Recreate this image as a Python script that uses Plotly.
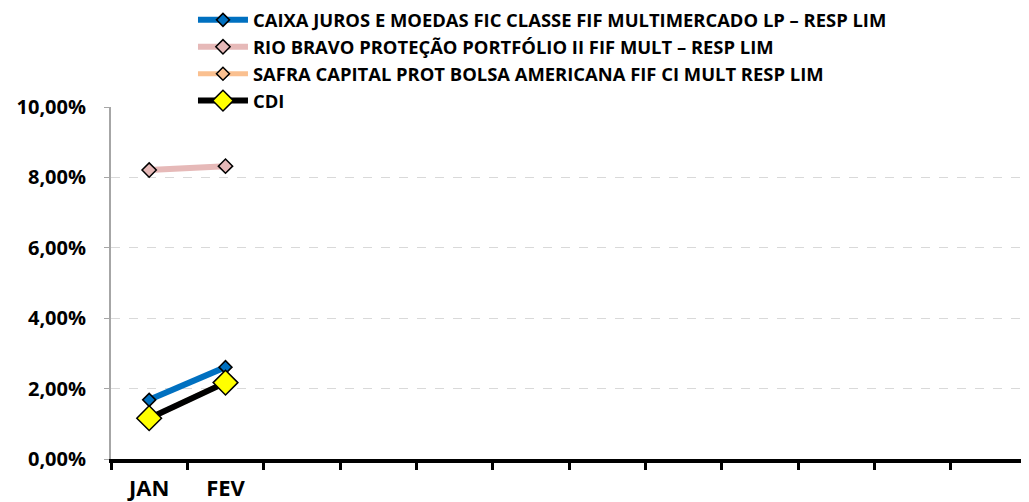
import plotly.graph_objects as go

months = ["JAN", "FEV", "MAR", "ABR", "MAI", "JUN", "JUL", "AGO", "SET", "OUT", "NOV", "DEZ"]
month_labels = ["JAN", "FEV", "", "", "", "", "", "", "", "", "", ""]

caixa = [0.0168, 0.0261]
rio_bravo = [0.0821, 0.0832]
safra = [0.0115, 0.0218]
cdi = [0.0116, 0.0217]

names = [
    "CAIXA JUROS E MOEDAS FIC CLASSE FIF MULTIMERCADO LP – RESP LIM",
    "RIO BRAVO PROTEÇÃO PORTFÓLIO II FIF MULT – RESP LIM",
    "SAFRA CAPITAL PROT BOLSA AMERICANA FIF CI MULT RESP LIM",
    "CDI",
]

FONT = "Open Sans"

fig = go.Figure()
series = [
    (caixa, "#0070C0", 6, "#0070C0", 10),
    (rio_bravo, "#E6B9B8", 6, "#E6B9B8", 11),
    (safra, "#FAC090", 5, "#FAC090", 10),
    (cdi, "#000000", 6, "#FFFF00", 19),
]
for i, ((vals, lc, lw, mc, ms), nm) in enumerate(zip(series, names)):
    fig.add_trace(go.Scatter(
        x=months[:len(vals)], y=vals, name=nm, mode="lines+markers",
        legendgroup=f"g{i}",
        line=dict(color=lc, width=lw),
        marker=dict(symbol="diamond", size=ms, color=mc, line=dict(color="#000000", width=1.5)),
    ))

fig.update_layout(
    width=1021, height=494,
    margin=dict(l=103, r=2, t=99, b=43, autoexpand=False),
    paper_bgcolor="white", plot_bgcolor="white",
    separators=",.",
    showlegend=True,
    legend=dict(
        x=0.0895, y=1.30, xanchor="left", yanchor="top",
        font=dict(family=FONT, size=18.4, color="#000000", weight="bold"),
        bgcolor="rgba(0,0,0,0)", tracegroupgap=0, itemwidth=50,
    ),
    font=dict(family=FONT, color="#000000"),
)
fig.update_xaxes(
    type="category", categoryorder="array", categoryarray=months,
    tickvals=months, ticktext=month_labels, range=[-0.5, 11.5],
    showline=True, linecolor="#000000", linewidth=4,
    ticks="outside", tickson="boundaries", ticklen=7, tickwidth=3, tickcolor="#000000",
    tickfont=dict(family=FONT, size=22, color="#000000", weight="bold"),
    ticklabelstandoff=7, automargin=False,
    showgrid=False, zeroline=False,
)
fig.update_yaxes(
    range=[0, 0.10], dtick=0.02, tickformat=".2%",
    showline=True, linecolor="#A6A6A6", linewidth=2,
    ticks="outside", ticklen=5, tickwidth=1, tickcolor="#A6A6A6",
    tickfont=dict(family=FONT, size=20, color="#000000", weight="bold"),
    ticklabelstandoff=14, automargin=False,
    showgrid=True, gridcolor="#D9D9D9", griddash="dash", gridwidth=1,
    zeroline=False,
)

fig.write_html("out.html")
